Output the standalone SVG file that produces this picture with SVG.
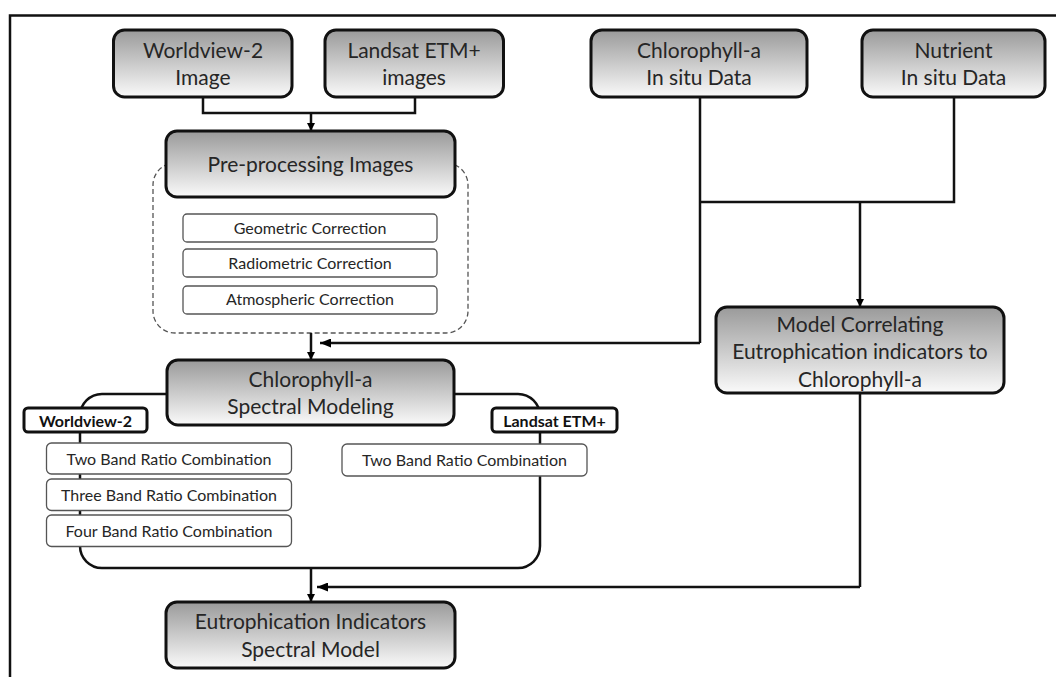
<svg xmlns="http://www.w3.org/2000/svg" width="1056" height="677" viewBox="0 0 1056 677">
<defs>
<linearGradient id="g" x1="0" y1="0" x2="0" y2="1">
<stop offset="0" stop-color="#9a9a9a"/>
<stop offset="1" stop-color="#fafafa"/>
</linearGradient>
<marker id="ah" viewBox="0 0 10 10" refX="10" refY="5" markerWidth="8" markerHeight="8" markerUnits="userSpaceOnUse" orient="auto">
<path d="M0,0 L10,5 L0,10 Z" fill="#000"/>
</marker>
<marker id="ahl" viewBox="0 0 10 10" refX="10" refY="5" markerWidth="11" markerHeight="9" markerUnits="userSpaceOnUse" orient="auto" preserveAspectRatio="none">
<path d="M0,0 L10,5 L0,10 Z" fill="#000"/>
</marker>
</defs>
<style>
.main{fill:url(#g);stroke:#111;stroke-width:3}
.sub{fill:#fff;stroke:#555;stroke-width:1.3}
.lab{fill:#fff;stroke:#111;stroke-width:3}
.t{font-family:Lato,"Liberation Sans",sans-serif;font-size:21px;fill:#262626;text-anchor:middle}
.ts{font-family:Lato,"Liberation Sans",sans-serif;font-size:16px;fill:#262626;text-anchor:middle}
.tg{font-family:Lato,"Liberation Sans",sans-serif;font-size:16px;fill:#262626;text-anchor:middle}
.tb{font-family:Lato,"Liberation Sans",sans-serif;font-size:16px;font-weight:bold;fill:#111;text-anchor:middle}
.c{fill:none;stroke:#111;stroke-width:2.5}
.ca{fill:none;stroke:#111;stroke-width:2.5;marker-end:url(#ah)}
.cl{fill:none;stroke:#111;stroke-width:2.5;marker-end:url(#ahl)}
</style>
<rect width="1056" height="677" fill="#fff"/>
<path d="M10,677 V15.5 H1056" fill="none" stroke="#111" stroke-width="2.5"/>

<g id="containers">
<rect id="dashed-group" x="153" y="163" width="315" height="170" rx="22" fill="none" stroke="#555" stroke-width="1.3" stroke-dasharray="5,3"/>
<rect id="spectral-group" x="80" y="394" width="460" height="174" rx="22" fill="none" stroke="#111" stroke-width="2.5"/>
</g>

<g id="connectors">
<path class="c" d="M203,97 V113 H415 V97"/>
<path class="ca" d="M311,113 V131"/>
<path class="c" d="M700,97 V343"/>
<path class="cl" d="M700,343 H320"/>
<path class="c" d="M954,97 V202 H700"/>
<path class="ca" d="M860,202 V307"/>
<path class="ca" d="M311,333 V360"/>
<path class="ca" d="M311,568 V602"/>
<path class="c" d="M860,393 V587"/>
<path class="cl" d="M860,587 H317"/>
</g>

<g id="worldview-image">
<rect class="main" x="113.5" y="30" width="178.5" height="67" rx="11"/>
<text class="t" x="203" y="58">Worldview-2</text>
<text class="t" x="203" y="85">Image</text>
</g>
<g id="landsat-images">
<rect class="main" x="325" y="30" width="178.5" height="67" rx="11"/>
<text class="t" x="414" y="58">Landsat ETM+</text>
<text class="t" x="414" y="85">images</text>
</g>
<g id="chl-insitu">
<rect class="main" x="591" y="30" width="216" height="67" rx="11"/>
<text class="t" x="699" y="58">Chlorophyll-a</text>
<text class="t" x="699" y="85">In situ Data</text>
</g>
<g id="nutrient-insitu">
<rect class="main" x="862" y="30" width="183" height="67" rx="11"/>
<text class="t" x="953.5" y="58">Nutrient</text>
<text class="t" x="953.5" y="85">In situ Data</text>
</g>

<g id="preprocessing">
<rect class="main" x="166" y="131" width="289" height="66" rx="11"/>
<text class="t" x="310.5" y="171.5">Pre-processing Images</text>
</g>
<g id="geometric">
<rect class="sub" x="183" y="214" width="254" height="28" rx="4"/>
<text class="tg" x="310" y="234">Geometric Correction</text>
</g>
<g id="radiometric">
<rect class="sub" x="183" y="249" width="254" height="28" rx="4"/>
<text class="tg" x="310" y="269">Radiometric Correction</text>
</g>
<g id="atmospheric">
<rect class="sub" x="183" y="286" width="254" height="28" rx="4"/>
<text class="tg" x="310" y="305">Atmospheric Correction</text>
</g>

<g id="model-correlating">
<rect class="main" x="716" y="307" width="288" height="86" rx="11"/>
<text class="t" x="860" y="332">Model Correlating</text>
<text class="t" x="860" y="359">Eutrophication indicators to</text>
<text class="t" x="860" y="386.5">Chlorophyll-a</text>
</g>

<g id="spectral-modeling">
<rect class="main" x="167" y="360" width="287" height="65" rx="11"/>
<text class="t" x="310.5" y="387">Chlorophyll-a</text>
<text class="t" x="310.5" y="414">Spectral Modeling</text>
</g>
<g id="label-worldview">
<rect class="lab" x="24" y="408" width="123" height="24" rx="4"/>
<text class="tb" x="85.5" y="426.5">Worldview-2</text>
</g>
<g id="label-landsat">
<rect class="lab" x="492" y="408" width="125" height="24" rx="4"/>
<text class="tb" x="554.5" y="426.5">Landsat ETM+</text>
</g>
<g id="wv-two">
<rect class="sub" x="46.5" y="443" width="245" height="31" rx="5"/>
<text class="ts" x="169" y="465">Two Band Ratio Combination</text>
</g>
<g id="wv-three">
<rect class="sub" x="46.5" y="479" width="245" height="31.5" rx="5"/>
<text class="ts" x="169" y="501">Three Band Ratio Combination</text>
</g>
<g id="wv-four">
<rect class="sub" x="46.5" y="515" width="245" height="31.5" rx="5"/>
<text class="ts" x="169" y="536.5">Four Band Ratio Combination</text>
</g>
<g id="ls-two">
<rect class="sub" x="342" y="444" width="245" height="32" rx="5"/>
<text class="ts" x="464.5" y="466">Two Band Ratio Combination</text>
</g>

<g id="eutrophication-model">
<rect class="main" x="166" y="602" width="289" height="66" rx="11"/>
<text class="t" x="310.5" y="629">Eutrophication Indicators</text>
<text class="t" x="310.5" y="657">Spectral Model</text>
</g>
</svg>
